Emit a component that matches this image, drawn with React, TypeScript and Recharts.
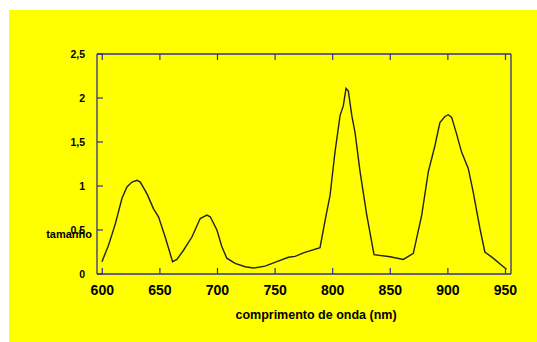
/**
 * Espectro: tamanho x comprimento de onda
 */

import { LineChart, Line, XAxis, YAxis } from "recharts";

// comprimento de onda (nm)
const wavelength = [
  599.7, 605.5, 611.3, 617.1, 621.4, 625.8, 630.1, 633, 638.8, 644.5, 648.8,
  654.6, 661, 664.8, 670.5, 677.8, 685, 690.8, 693.7, 699.5, 703.8, 708.1,
  715.3, 724, 731.2, 741.3, 751.5, 761.6, 767.4, 774.6, 789, 794.3, 797.7,
  802, 806.4, 809.2, 811.6, 813.6, 816.6, 819.4, 823.8, 829.6, 835.9, 849.8,
  861.3, 870, 877.3, 883, 888.8, 893.1, 897.5, 900.3, 903.3, 907.6, 911.9,
  917.7, 922, 927.8, 932.1, 939.3, 946.6, 950.9,
];

// tamanho
const tamanho = [
  0.14, 0.33, 0.57, 0.86, 0.99, 1.045, 1.065, 1.045, 0.91, 0.74, 0.65, 0.42,
  0.14, 0.165, 0.27, 0.42, 0.63, 0.67, 0.65, 0.5, 0.31, 0.18, 0.12, 0.083,
  0.068, 0.09, 0.14, 0.19, 0.2, 0.24, 0.3, 0.67, 0.89, 1.385, 1.8, 1.91, 2.11,
  2.08, 1.8, 1.61, 1.16, 0.67, 0.22, 0.196, 0.166, 0.234, 0.67, 1.16, 1.46,
  1.72, 1.79, 1.81, 1.78, 1.59, 1.385, 1.2, 0.93, 0.52, 0.25, 0.18, 0.1, 0.053,
];

const xTicks = [600, 650, 700, 750, 800, 850, 900, 950];
const yMajor = [0, 0.5, 1, 1.5, 2, 2.5];
const yMajorLabels = ["0", "0.5", "1", "1,5", "2", "2,5"];

const data = wavelength.map((nm, i) => ({ nm, tamanho: tamanho[i] }));

const NAVY = "#2f2f8c";
const FONT = "'Liberation Sans', Arial, sans-serif";
const OFF = 8;

const majorIndex = (v: number) =>
  yMajor.findIndex((m) => Math.abs(m - v) < 1e-6);

const LeftTick = ({ x, y, payload }: any) => {
  const ax = x + OFF;
  const idx = majorIndex(payload.value);
  return (
    <g>
      <path d={`M${ax},${y}h6`} stroke={NAVY} strokeWidth={1.2} fill="none" />
      <text
        x={ax - 12}
        y={y + 4}
        textAnchor="end"
        fontSize={10.5}
        fontWeight="bold"
        fontFamily={FONT}
        fill="#000"
      >
        {yMajorLabels[idx]}
      </text>
    </g>
  );
};

const RightTick = ({ x, y }: any) => (
  <path d={`M${x - OFF},${y}h-6`} stroke={NAVY} strokeWidth={1.2} fill="none" />
);

const BottomTick = ({ x, y, payload }: any) => {
  const ay = y - OFF;
  return (
    <g>
      <path d={`M${x},${ay}v-6`} stroke={NAVY} strokeWidth={1.2} fill="none" />
      <text
        x={x}
        y={ay + 21}
        textAnchor="middle"
        fontSize={14}
        fontWeight="bold"
        fontFamily={FONT}
        fill="#000"
      >
        {payload.value}
      </text>
    </g>
  );
};

const TopTick = ({ x, y }: any) => (
  <path d={`M${x},${y + OFF}v6`} stroke={NAVY} strokeWidth={1.2} fill="none" />
);

const titleStyle = {
  position: "absolute" as const,
  fontFamily: FONT,
  fontWeight: "bold" as const,
  color: "#000",
  whiteSpace: "nowrap" as const,
  lineHeight: "14px",
};

export default function App() {
  return (
    <div
      style={{
        position: "absolute",
        top: 10,
        left: 9,
        width: 528,
        height: 332,
        background: "#ffff00",
      }}
    >
      <LineChart
        width={528}
        height={332}
        data={data}
        margin={{ top: 43, right: 25, left: 0, bottom: 38 }}
      >
        <XAxis
          xAxisId="bottom"
          dataKey="nm"
          type="number"
          domain={[595.4, 954.8]}
          ticks={xTicks}
          interval={0}
          allowDataOverflow
          height={30}
          tickSize={6}
          tickMargin={2}
          tickLine={false}
          tick={<BottomTick />}
          axisLine={{ stroke: NAVY, strokeWidth: 1.3 }}
        />
        <XAxis
          xAxisId="top"
          orientation="top"
          dataKey="nm"
          type="number"
          domain={[595.4, 954.8]}
          ticks={xTicks}
          interval={0}
          allowDataOverflow
          height={1}
          tickSize={6}
          tickMargin={2}
          tickLine={false}
          tick={<TopTick />}
          axisLine={{ stroke: NAVY, strokeWidth: 1.3 }}
        />
        <YAxis
          yAxisId="left"
          type="number"
          domain={[0, 2.5]}
          ticks={yMajor}
          width={88}
          tickSize={6}
          tickMargin={2}
          tickLine={false}
          tick={<LeftTick />}
          axisLine={{ stroke: NAVY, strokeWidth: 1.3 }}
        />
        <YAxis
          yAxisId="right"
          orientation="right"
          type="number"
          domain={[0, 2.5]}
          ticks={yMajor}
          width={1}
          tickSize={6}
          tickMargin={2}
          tickLine={false}
          tick={<RightTick />}
          axisLine={{ stroke: NAVY, strokeWidth: 1.3 }}
        />
        <Line
          xAxisId="bottom"
          yAxisId="left"
          type="linear"
          dataKey="tamanho"
          stroke="#222"
          strokeWidth={1.4}
          dot={false}
          isAnimationActive={false}
        />
      </LineChart>
      <div
        style={{
          ...titleStyle,
          left: 0,
          width: 83,
          top: 217,
          textAlign: "right",
          fontSize: 11,
        }}
      >
        tamanho
      </div>
      <div
        style={{
          ...titleStyle,
          left: 207,
          width: 200,
          top: 298,
          textAlign: "center",
          fontSize: 12.5,
        }}
      >
        comprimento de onda (nm)
      </div>
    </div>
  );
}
